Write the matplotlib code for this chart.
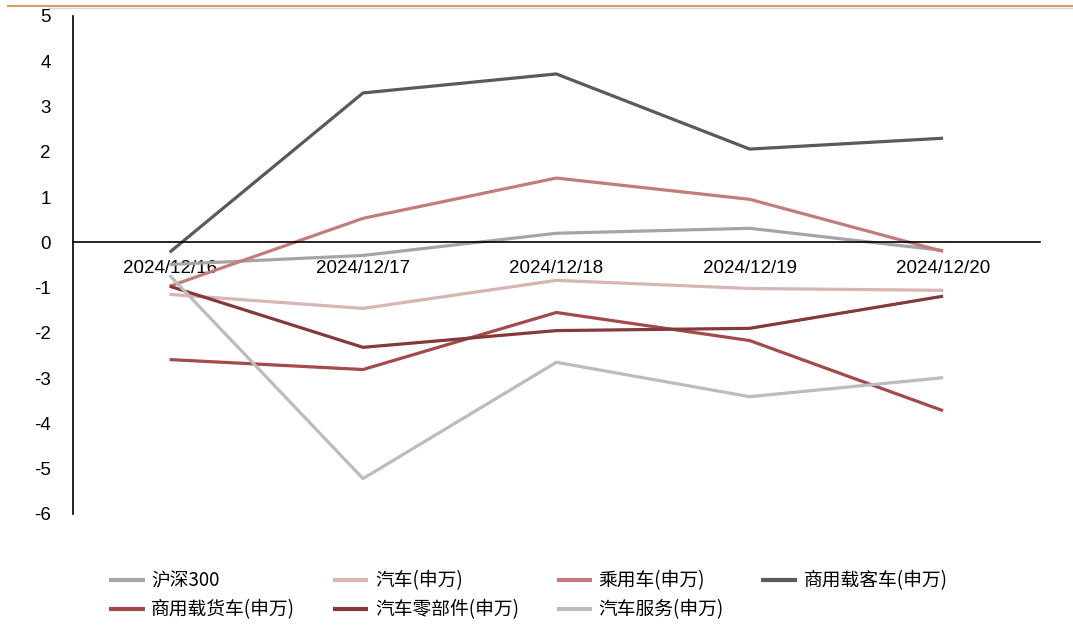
import matplotlib
matplotlib.use("Agg")
import matplotlib.pyplot as plt
from matplotlib.lines import Line2D

# 数据
dates = ["2024/12/16", "2024/12/17", "2024/12/18", "2024/12/19", "2024/12/20"]
hs300 = [-0.49, -0.29, 0.20, 0.31, -0.18]
qiche = [-1.15, -1.46, -0.84, -1.02, -1.06]
chengyong = [-0.97, 0.53, 1.42, 0.95, -0.20]
zaike = [-0.22, 3.30, 3.72, 2.06, 2.30]
zaihuo = [-2.59, -2.81, -1.55, -2.17, -3.72]
lingbujian = [-0.97, -2.32, -1.95, -1.90, -1.19]
fuwu = [-0.73, -5.22, -2.65, -3.41, -2.99]

series = [
    ("沪深300", hs300, "#a5a5a5"),
    ("汽车(申万)", qiche, "#d8b4b3"),
    ("乘用车(申万)", chengyong, "#c27c7a"),
    ("商用载客车(申万)", zaike, "#5a5a5a"),
    ("商用载货车(申万)", zaihuo, "#a24b49"),
    ("汽车零部件(申万)", lingbujian, "#84393a"),
    ("汽车服务(申万)", fuwu, "#bcbcbc"),
]

plt.rcParams['font.family'] = ['Liberation Sans', 'DejaVu Sans']
plt.rcParams['axes.unicode_minus'] = False

fig = plt.figure(figsize=(10.73, 6.4), dpi=100)
ax = fig.add_axes([0.068, 0.197, 0.901, 0.778])

x = list(range(len(dates)))
lines = []
for name, vals, col in series:
    ln, = ax.plot(x, vals, color=col, lw=2.3, label=name, solid_capstyle="butt")
    lines.append(ln)

ax.set_xlim(-0.5, 4.5)
ax.set_ylim(-6, 5)
ax.set_yticks(range(-6, 6))
ax.set_xticks(x)
ax.set_xticklabels(dates)
ax.tick_params(axis="x", length=0, pad=13, labelsize=13.5)
ax.tick_params(axis="y", length=0, pad=16, labelsize=13.5)

ax.spines["top"].set_visible(False)
ax.spines["right"].set_visible(False)
ax.spines["bottom"].set_position(("data", 0))
ax.spines["bottom"].set_linewidth(1.2)
ax.spines["left"].set_linewidth(1.2)

# 图例按行排列
order = [0, 4, 1, 5, 2, 6, 3]
leg = fig.legend([lines[i] for i in order], [series[i][0] for i in order],
                 loc="upper left", bbox_to_anchor=(0.086, 0.135), ncol=4,
                 frameon=False, handlelength=1.9, handletextpad=0.35,
                 columnspacing=2.0, labelspacing=0.42,
                 prop={"family": ["Noto Sans CJK SC", "DejaVu Sans"], "size": 13.5})
for h in leg.get_lines():
    h.set_linewidth(3)

# 顶部装饰线
fig.add_artist(Line2D([0.007, 1.0], [0.991, 0.991], color="#d0a060", lw=1.5))
fig.add_artist(Line2D([0.045, 1.0], [0.987, 0.987], color="#d8d8d8", lw=1))

fig.savefig("out.png", dpi=100)
